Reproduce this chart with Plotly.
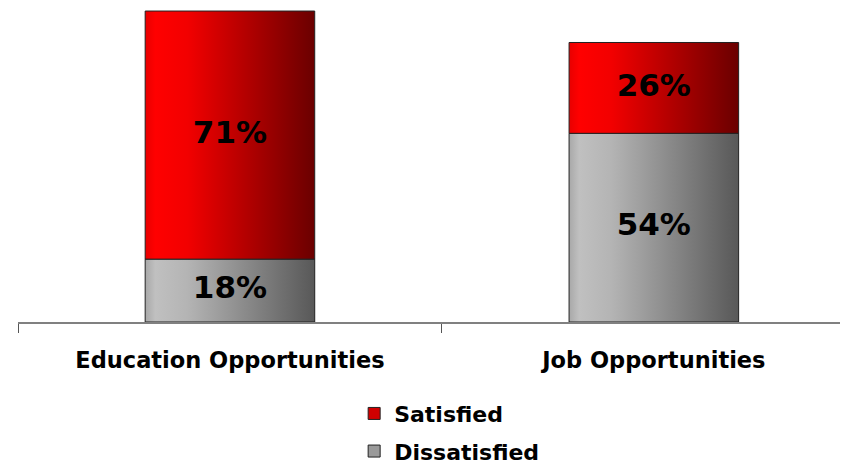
import plotly.graph_objects as go

categories = ["Education Opportunities", "Job Opportunities"]
series_names = ["Dissatisfied", "Satisfied"]
dissatisfied = [18, 54]
satisfied = [71, 26]
values = {"Dissatisfied": dissatisfied, "Satisfied": satisfied}

gradients = {
    "Satisfied": [[0, "#e80000"], [0.06, "#ff0000"], [0.25, "#f20000"], [1, "#6a0000"]],
    "Dissatisfied": [[0, "#a8a8a8"], [0.06, "#c0c0c0"], [0.25, "#b4b4b4"], [1, "#585858"]],
}
legend_colors = {"Satisfied": "#d00000", "Dissatisfied": "#9a9a9a"}

FONT = "DejaVu Sans"
half_w = 0.2

fig = go.Figure()

base = [0] * len(categories)
for name in series_names:
    vals = values[name]
    for i, cat in enumerate(categories):
        b, t = base[i], base[i] + vals[i]
        fig.add_trace(go.Scatter(
            x=[i - half_w, i + half_w, i + half_w, i - half_w, i - half_w],
            y=[b, b, t, t, b],
            mode="lines", fill="toself",
            line=dict(color="#222222", width=1),
            fillgradient=dict(type="horizontal", colorscale=gradients[name]),
            showlegend=False, hoverinfo="skip",
        ))
        fig.add_trace(go.Scatter(
            x=[i], y=[b + vals[i] / 2], mode="text",
            text=[f"{vals[i]}%"],
            textfont=dict(family=FONT, size=31, color="black", weight="bold"),
            showlegend=False, hoverinfo="skip",
        ))
        base[i] = t

# legend entries (Satisfied first)
for name in ["Satisfied", "Dissatisfied"]:
    fig.add_trace(go.Bar(
        x=[None], y=[None], name=name, legendgroup=name,
        marker=dict(color=legend_colors[name], line=dict(color="#222222", width=1)),
    ))

fig.update_layout(
    width=840, height=459,
    margin=dict(l=10, r=0, t=0, b=145, autoexpand=False),
    paper_bgcolor="white", plot_bgcolor="white",
    font=dict(family=FONT, size=22, color="black"),
    showlegend=True,
    legend=dict(
        x=0.405, xanchor="left", y=-0.225, yanchor="top",
        font=dict(family=FONT, size=22, color="black", weight="bold"),
        itemwidth=30, tracegroupgap=6, traceorder="grouped",
        bgcolor="rgba(0,0,0,0)",
    ),
    xaxis=dict(
        range=[-0.5, 1.458], tickvals=[0, 1], ticktext=categories,
        ticks="", showgrid=False, zeroline=False,
        showline=True, linecolor="#808080", linewidth=2,
        tickfont=dict(family=FONT, size=22.5, color="black", weight="bold"),
        ticklabelstandoff=17,
        minor=dict(tickvals=[-0.5, 0.5, 1.5], ticks="outside", ticklen=9,
                   tickcolor="#555555", tickwidth=1, showgrid=False),
    ),
    yaxis=dict(range=[0, 89.87], visible=False, showgrid=False, zeroline=False),
)

fig.write_html("out.html")
